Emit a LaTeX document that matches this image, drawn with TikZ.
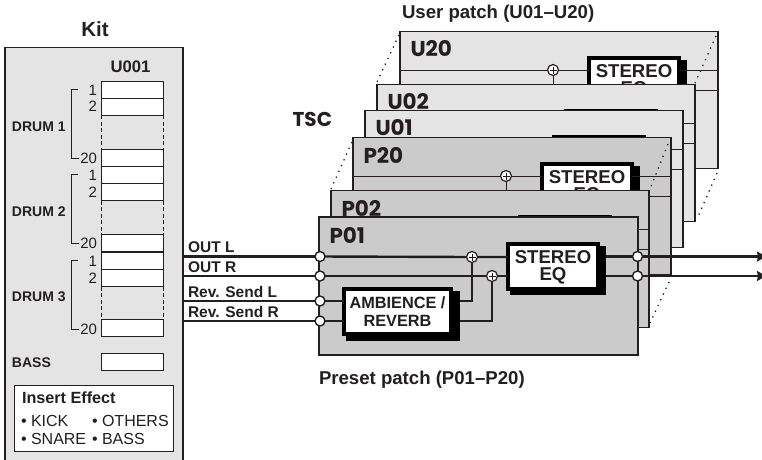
\documentclass[tikz,border=0pt]{standalone}
\usepackage{fontspec}
\setmainfont{Liberation Sans}
\newfontfamily\patchfont{Poppins}[BoldFont={Poppins Bold}]
\usetikzlibrary{arrows.meta,calc}
\definecolor{ink}{HTML}{231F20}
\definecolor{ulayer}{HTML}{E4E4E4}
\definecolor{player}{HTML}{CBCBCB}
\newcommand{\fs}[1]{\fontsize{#1}{#1}\selectfont}
\tikzset{
  every node/.style={inner sep=0pt,outer sep=0pt,text=ink},
  bold155/.style={font=\fs{15.5}\bfseries,anchor=west},
  reg15/.style={font=\fs{16},anchor=west},
  num/.style={font=\fs{15},anchor=east},
  slot/.style={draw=ink,line width=1pt,fill=white,minimum width=62pt,minimum height=17pt},
  sidedash/.style={draw=ink,line width=1pt,dash pattern=on 4pt off 2.5pt},
  bracketline/.style={draw=ink,line width=1pt},
  layerbox/.style={draw=ink,line width=1.1pt,minimum width=318pt,minimum height=137pt},
  layername/.style={font=\patchfont\fs{21.5}\bfseries,anchor=west},
  shadowbox/.style={fill=black},
  fxbox/.style={draw=black,line width=3.7pt,fill=white,align=center},
  mixer/.style={circle,draw=ink,fill=white,line width=1.2pt,minimum size=11pt},
  jack/.style={circle,draw=ink,fill=white,line width=1.4pt,minimum size=10pt},
  thinsig/.style={draw=ink,line width=1pt},
  thicksig/.style={draw=ink,line width=2.4pt},
  perspective/.style={draw=ink,line width=1.3pt,dash pattern=on 1.3pt off 5pt},
  caption/.style={font=\fs{18.6}\bfseries,anchor=west}
}
\newcommand{\plusin}[1]{\draw[ink,line width=.9pt] ($(#1)+(-3.5,0)$) -- ($(#1)+(3.5,0)$) ($(#1)+(0,-3.5)$) -- ($(#1)+(0,3.5)$);}
\newcommand{\patchlayer}[5]{
  \begin{scope}[shift={(#2,#3)}]
    \node[layerbox,fill=#4] (#1) at (478,286) {};
    \node[layername] (#1name) at (329.5,235) {#5};
    \node[mixer] (#1plus) at (472,256) {};
    \plusin{#1plus}
    \node[shadowbox,minimum width=96pt,minimum height=49pt] (#1shadow) at (558,270.5) {};
    \node[fxbox,minimum width=90pt,minimum height=45pt] (#1eq) at (553,266.5) {};
    \node[font=\fs{18.6}\bfseries] (#1eqA) at (553,257) {STEREO};
    \node[font=\fs{18.6}\bfseries] (#1eqB) at (553,276) {EQ};
    \coordinate (#1down) at (472,320);
    \coordinate (#1rowB) at (319,276);
    \draw[thinsig] (#1.west |- #1plus) -- (#1plus) -- (#1eq.west |- #1plus);
    \draw[thinsig] (#1plus) -- (#1down);
    \draw[thinsig] (#1eq.east |- #1plus) -- (#1.east |- #1plus);
    \draw[thinsig] (#1rowB) -- (#1eq.west |- #1rowB);
    \draw[thinsig] (#1eq.east |- #1rowB) -- (#1.east |- #1rowB);
  \end{scope}
}
\begin{document}
\begin{tikzpicture}[x=1pt,y=-1pt]
\useasboundingbox (0,0) rectangle (762,459);
% ---------- Kit ----------
\node[font=\fs{20.5}\bfseries] (kitTitle) at (95,29) {Kit};
\draw[draw=ink,line width=1.4pt,fill=ulayer] (5,464) -- (5,47.5) -- (183,47.5) -- (183,464);
\node[font=\fs{16.7}\bfseries] (u001) at (130.5,67) {U001};
\foreach \n/\y in {a1/89.5,a2/106.5,a20/158,b1/175,b2/192,b20/243,c1/260.5,c2/278,c20/327.5,bass/361.5}{
  \node[slot] (\n) at (132,\y) {};
}
\draw[sidedash] (a2.south west) -- (a20.north west) (a2.south east) -- (a20.north east);
\draw[sidedash] (b2.south west) -- (b20.north west) (b2.south east) -- (b20.north east);
\draw[sidedash] (c2.south west) -- (c20.north west) (c2.south east) -- (c20.north east);
\foreach \s/\yy in {a/0,b/85.5,c/171.5}{
  \begin{scope}[shift={(0,\yy)}]
    \node[num] at (97,90) {1};
    \node[num] at (97,106.5) {2};
    \node[num] at (97,158) {20};
    \draw[bracketline] (78,89) -- (71,89) -- (71,158) -- (79,158);
  \end{scope}
}
\node[font=\fs{14}\bfseries,anchor=west] (d1) at (12,126.5) {DRUM 1};
\node[font=\fs{14}\bfseries,anchor=west] (d2) at (12,212) {DRUM 2};
\node[font=\fs{14}\bfseries,anchor=west] (d3) at (12,297) {DRUM 3};
\node[font=\fs{14}\bfseries,anchor=west] (bs) at (12,362.5) {BASS};
\node[draw=ink,line width=1pt,fill=white,minimum width=159pt,minimum height=66pt] (ins) at (93.5,418) {};
\node[font=\fs{16.2}\bfseries,anchor=west] (insT) at (22,398) {Insert Effect};
\node[reg15] (i1) at (21,420.5) {• KICK};
\node[reg15] (i2) at (92,420.5) {• OTHERS};
\node[reg15] (i3) at (21,438.5) {• SNARE};
\node[reg15] (i4) at (92,438.5) {• BASS};
% ---------- Stacked patches ----------
\node[font=\fs{18.6}\bfseries,anchor=west] (userCap) at (402,13.5) {User patch (U01–U20)};
\patchlayer{U20}{81}{-186}{ulayer}{U20}
\coordinate (u20tl) at (399,35); \coordinate (u02tl) at (377,82);
\coordinate (u20tr) at (716,36); \coordinate (u02tr) at (695,83);
\coordinate (u20br) at (717,173); \coordinate (u02br) at (697,219);
\draw[perspective] (u20tl) -- (u02tl);
\draw[perspective] (u20tr) -- (u02tr);
\draw[perspective] (u20br) -- (u02br);
\patchlayer{U02}{58}{-133}{ulayer}{U02}
\patchlayer{U01}{46}{-107}{ulayer}{U01}
\node[font=\patchfont\fs{20}\bfseries,anchor=east] (tsc) at (332,119.5) {TSC};
\patchlayer{P20}{34}{-80}{player}{P20}
\coordinate (p20tl) at (352,142); \coordinate (p02tl) at (331,189);
\coordinate (p20tr) at (668,144); \coordinate (p02tr) at (650,189);
\coordinate (p20br) at (669,282); \coordinate (p02br) at (650,323);
\draw[perspective] (p20tl) -- (p02tl);
\draw[perspective] (p20tr) -- (p02tr);
\draw[perspective] (p20br) -- (p02br);
\patchlayer{P02}{12}{-27}{player}{P02}
% ---------- P01 ----------
\node[draw=ink,line width=2pt,fill=player,minimum width=319pt,minimum height=138pt] (P01) at (478,286) {};
\node[layername] (P01name) at (329.5,235) {P01};
\node[shadowbox,minimum width=113.5pt,minimum height=49.5pt] (ambShadow) at (402.75,315.75) {};
\node[fxbox,minimum width=107pt,minimum height=45pt] (amb) at (397.5,311.5) {};
\node[font=\fs{16.3}\bfseries] (ambA) at (397.5,302.5) {AMBIENCE /};
\node[font=\fs{16.3}\bfseries] (ambB) at (397.5,321) {REVERB};
\node[shadowbox,minimum width=96pt,minimum height=49pt] (eqShadow) at (558,270.5) {};
\node[fxbox,minimum width=90pt,minimum height=45pt] (eq) at (553,266.5) {};
\node[font=\fs{18.6}\bfseries] (eqA) at (553,257) {STEREO};
\node[font=\fs{18.6}\bfseries] (eqB) at (553,276) {EQ};
\node[jack] (inL) at (320,256.5) {};
\node[jack] (inR) at (320,276) {};
\node[jack] (sendL) at (320,301) {};
\node[jack] (sendR) at (320,321) {};
\node[jack] (outL) at (637.5,256.5) {};
\node[jack] (outR) at (637.5,276) {};
\node[mixer] (plusA) at (472,257) {};
\node[mixer] (plusB) at (492,276) {};
\plusin{plusA}
\plusin{plusB}
\coordinate (kitL) at (183,256.5);
\coordinate (kitR) at (183,276);
\coordinate (kitSL) at (183,301);
\coordinate (kitSR) at (183,321);
\coordinate (endL) at (766,256.5);
\coordinate (endR) at (766,276);
\draw[thicksig] (kitL) -- (inL);
\draw[thicksig] (kitR) -- (inR);
\draw[thicksig] (kitSL) -- (sendL);
\draw[thicksig] (kitSR) -- (sendR);
\draw[thicksig] (inL) -- (plusA) -- (eq.west |- plusA);
\draw[thicksig] (inR) -- (plusB) -- (eq.west |- plusB);
\draw[thicksig] (sendL) -- (amb.west |- sendL);
\draw[thicksig] (sendR) -- (amb.west |- sendR);
\draw[thicksig] (ambShadow.east |- sendL) -| (plusA);
\draw[thicksig] (ambShadow.east |- sendR) -| (plusB);
\draw[thicksig] (eqShadow.east |- outL) -- (outL);
\draw[thicksig] (eqShadow.east |- outR) -- (outR);
\draw[thicksig,-{Stealth[length=9pt,width=10pt,inset=1pt]}] (outL) -- (endL);
\draw[thicksig,-{Stealth[length=9pt,width=10pt,inset=1pt]}] (outR) -- (endR);
\node[bold155] (lab1) at (188,247) {OUT L};
\node[bold155] (lab2) at (188,267.5) {OUT R};
\node[bold155] (lab3) at (188,291.5) {Rev. Send L};
\node[bold155] (lab4) at (188,312) {Rev. Send R};
\node[caption] (preCap) at (319,380) {Preset patch (P01–P20)};
\end{tikzpicture}
\end{document}
